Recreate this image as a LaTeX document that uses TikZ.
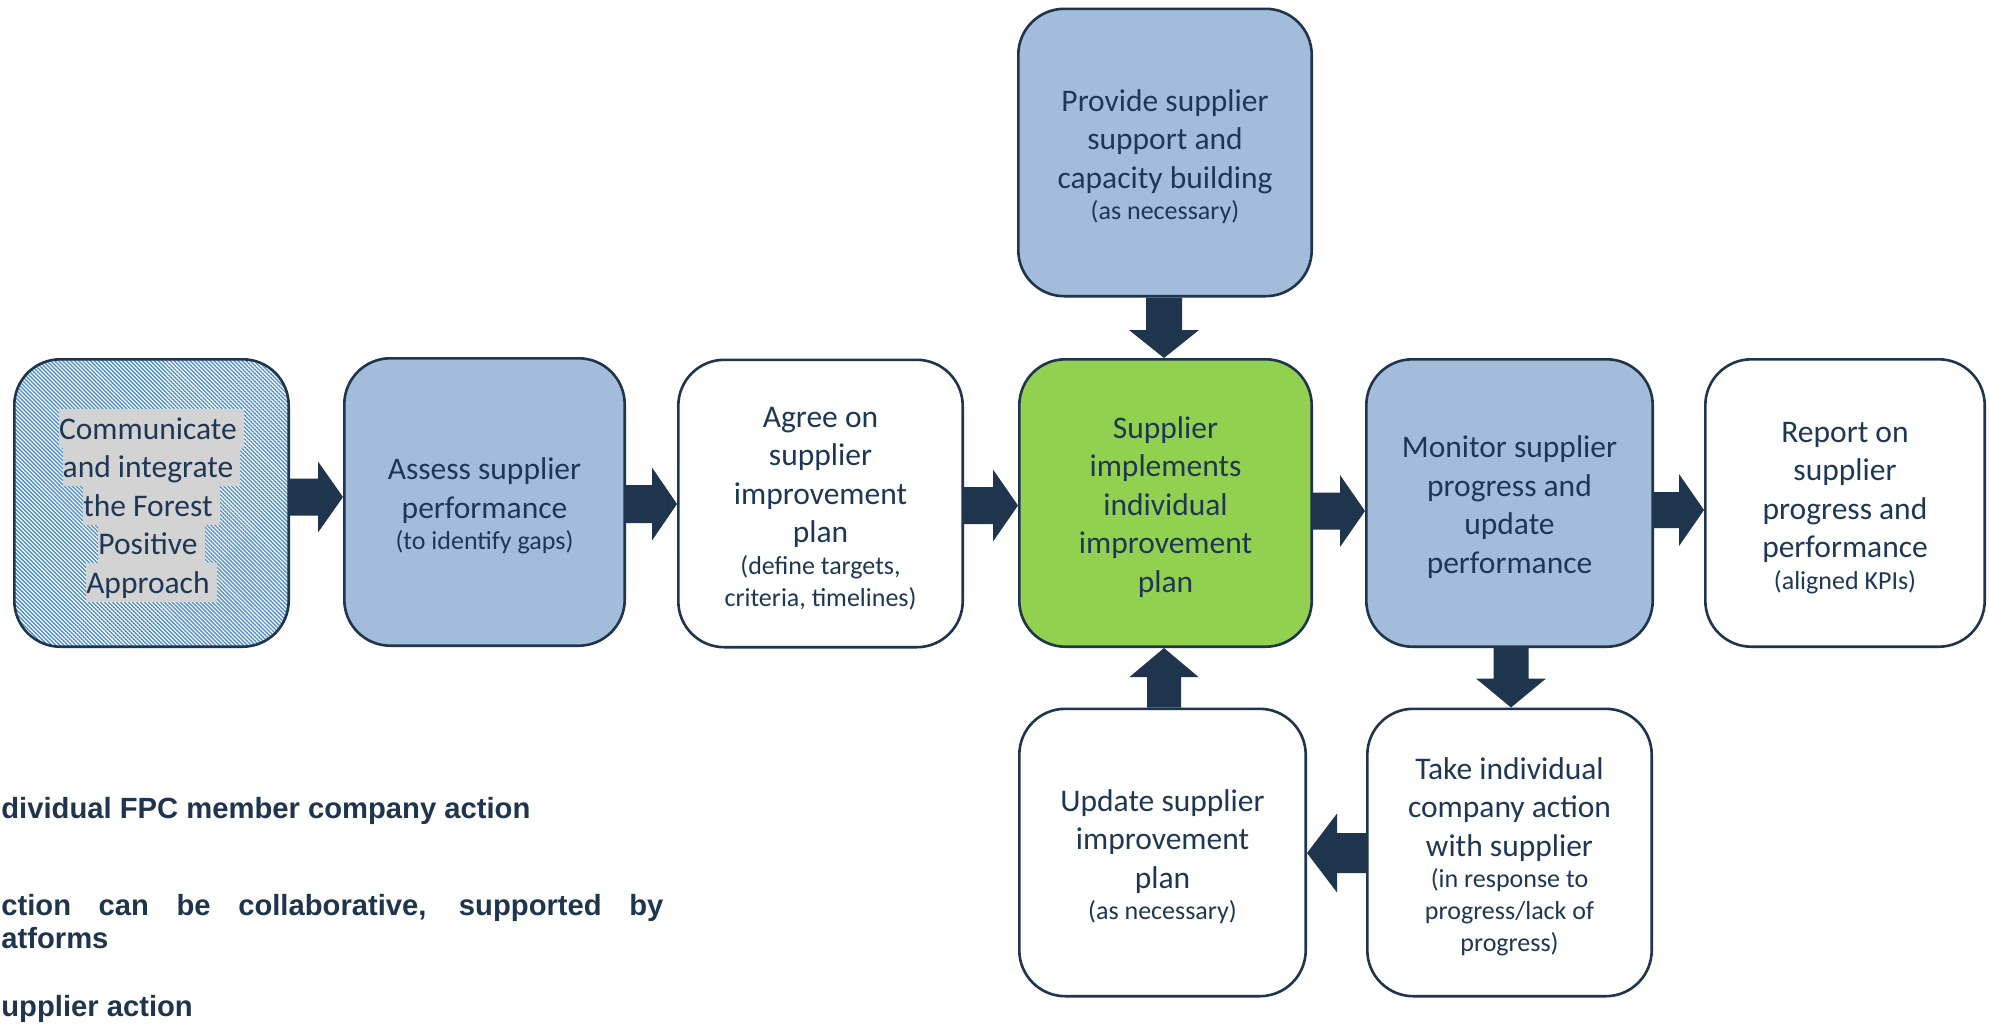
\documentclass[tikz,border=0pt]{standalone}
\usepackage{fontspec}
\setmainfont{Carlito}
\newfontfamily\legfont{Liberation Sans}
\usetikzlibrary{calc,patterns.meta}
\definecolor{navy}{RGB}{31,53,77}
\definecolor{textc}{RGB}{30,55,85}
\definecolor{bluefill}{RGB}{162,188,218}
\definecolor{greenfill}{RGB}{146,208,80}
\definecolor{hatchc}{RGB}{74,144,217}
\definecolor{hlgray}{RGB}{211,211,211}
\setlength\fboxsep{0pt}
\newcommand\mainsz{\fontsize{15.75pt}{19.25pt}\selectfont}
\newcommand\subsz{\fontsize{13pt}{15.9pt}\selectfont}
\newcommand\hlt[1]{\colorbox{hlgray}{\rule[-4.25pt]{0pt}{19.25pt}#1\ }}
\newcommand\subl[1]{\\[-3.35pt]{\subsz #1}}
\newcommand\tp{\rule{0pt}{15pt}}
% block arrows: src, dst, position, half shaft, half head, head length
\newcommand\arrR[6]{%
  \coordinate (yy) at (0,#3);
  \path (#1.east |- yy) coordinate (as) (#2.west |- yy) coordinate (at);
  \fill[navy] ($(as)+(0,-#4)$) -- ($(at)+(-#6,-#4)$) -- ($(at)+(-#6,-#5)$) -- (at)
    -- ($(at)+(-#6,#5)$) -- ($(at)+(-#6,#4)$) -- ($(as)+(0,#4)$) -- cycle;}
\newcommand\arrL[6]{%
  \coordinate (yy) at (0,#3);
  \path (#1.west |- yy) coordinate (as) (#2.east |- yy) coordinate (at);
  \fill[navy] ($(as)+(0,-#4)$) -- ($(at)+(#6,-#4)$) -- ($(at)+(#6,-#5)$) -- (at)
    -- ($(at)+(#6,#5)$) -- ($(at)+(#6,#4)$) -- ($(as)+(0,#4)$) -- cycle;}
\newcommand\arrD[6]{%
  \coordinate (xx) at (#3,0);
  \path (#1.south -| xx) coordinate (as) (#2.north -| xx) coordinate (at);
  \fill[navy] ($(as)+(-#4,0)$) -- ($(at)+(-#4,-#6)$) -- ($(at)+(-#5,-#6)$) -- (at)
    -- ($(at)+(#5,-#6)$) -- ($(at)+(#4,-#6)$) -- ($(as)+(#4,0)$) -- cycle;}
\newcommand\arrU[6]{%
  \coordinate (xx) at (#3,0);
  \path (#1.north -| xx) coordinate (as) (#2.south -| xx) coordinate (at);
  \fill[navy] ($(as)+(-#4,0)$) -- ($(at)+(-#4,#6)$) -- ($(at)+(-#5,#6)$) -- (at)
    -- ($(at)+(#5,#6)$) -- ($(at)+(#4,#6)$) -- ($(as)+(#4,0)$) -- cycle;}
\begin{document}
\begin{tikzpicture}[x=0.5pt,y=-0.5pt,
  box/.style={draw=navy, line width=1.3pt, rounded corners=23pt,
    minimum height=143.7pt, align=center, text=textc, font=\mainsz, inner sep=0pt},
  legend/.style={anchor=base west, inner sep=0pt, text=navy,
    font=\legfont\bfseries\fontsize{14.6pt}{17pt}\selectfont}]
\useasboundingbox (0,0) rectangle (1989,1028);
\fill[white] (0,0) rectangle (1989,1028);

% main row
\node[box, pattern={Lines[angle=-45,distance=1.41pt,line width=0.7pt]}, pattern color=hatchc,
  minimum width=137.2pt] (comm) at (151.5,503)
  {\rule{0pt}{17.5pt}\hlt{Communicate}\\\hlt{and integrate}\\\hlt{the Forest}\\\hlt{Positive}\\\hlt{Approach}};
\node[box, fill=bluefill, minimum width=140.2pt] (assess) at (484.5,502)
  {\tp Assess supplier\\performance\subl{(to identify gaps)}};
\node[box, fill=white, minimum width=142.2pt] (agree) at (820.5,503.5)
  {\tp Agree on\\supplier\\improvement\\plan\subl{(define targets,}\subl{criteria, timelines)}};
\node[box, fill=greenfill, minimum width=146.2pt] (impl) at (1165.5,503)
  {\tp Supplier\\implements\\individual\\improvement\\plan};
\node[box, fill=bluefill, minimum width=143.2pt] (monitor) at (1509.5,503)
  {\tp Monitor supplier\\progress and\\update\\performance};
\node[box, fill=white, minimum width=139.7pt] (report) at (1845,503)
  {\tp Report on\\supplier\\progress and\\performance\subl{(aligned KPIs)}};

% top and bottom
\node[box, fill=bluefill, minimum width=146.7pt] (provide) at (1165,152.5)
  {\tp Provide supplier\\support and\\capacity building\subl{(as necessary)}};
\node[box, fill=white, minimum width=143.2pt] (update) at (1162.5,852.5)
  {\tp Update supplier\\improvement\\plan\subl{(as necessary)}};
\node[box, fill=white, minimum width=142.2pt] (take) at (1509.5,852.5)
  {\tp Take individual\\company action\\with supplier\subl{(in response to}\subl{progress/lack of}\subl{progress)}};

% arrows
\arrR{comm}{assess}{497}{18.5}{35.5}{25}
\arrR{assess}{agree}{504}{19}{36.5}{25}
\arrR{agree}{impl}{505.5}{18.5}{36}{25}
\arrR{impl}{monitor}{511}{18.5}{36}{25}
\arrR{monitor}{report}{510}{18}{36}{25}
\arrD{provide}{impl}{1164}{18}{35}{28}
\arrU{update}{impl}{1164}{17}{34.5}{29}
\arrD{monitor}{take}{1511}{17.5}{35}{29}
\arrL{take}{update}{853}{20}{39.5}{30}

% legend (cut at the left edge)
\node[legend] (leg1) at (1,818) {dividual FPC member company action};
\node[legend] (leg2) at (1,915) {\makebox[331pt][s]{ction can be collaborative, supported by}};
\node[legend] (leg3) at (1,948) {atforms};
\node[legend] (leg4) at (1,1016) {upplier action};
\end{tikzpicture}
\end{document}
